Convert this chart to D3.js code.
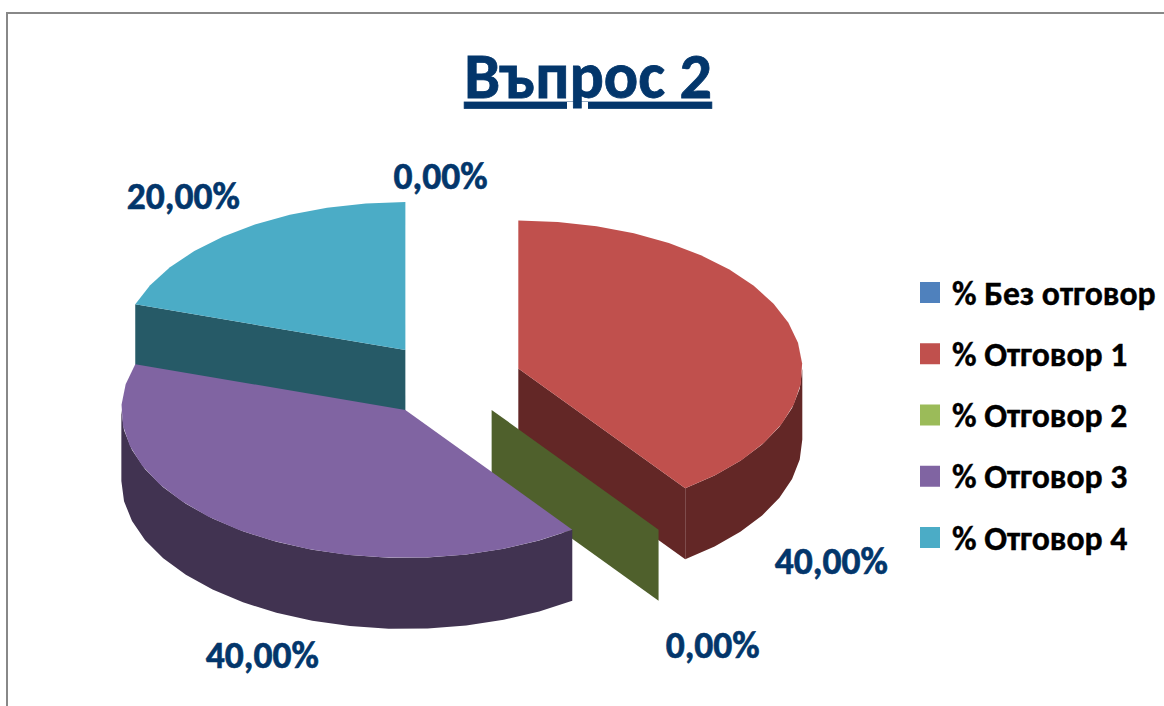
<!DOCTYPE html>
<html>
<head>
<meta charset="utf-8">
<script src="https://cdn.jsdelivr.net/npm/d3@7"></script>
<style>
  html, body { margin: 0; padding: 0; background: #fff; overflow: hidden; }
  text { font-family: Carlito, Lato, "Open Sans", sans-serif; font-weight: 700; }
</style>
</head>
<body>
<div id="chart"></div>
<script>
const chartTitle = 'Въпрос 2'
const categories = ['% Без отговор', '% Отговор 1', '% Отговор 2', '% Отговор 3', '% Отговор 4']
const percentages = [0, 40, 0, 40, 20]

const topColors = ['#4f81bd', '#c0504d', '#9bbb59', '#8064a2', '#4bacc6']
const sideColors = ['#27405e', '#632726', '#4f602c', '#413351', '#265a67']
// where excel put each data label, relative to the apex of its slice
const labelOffsets = [[-8, -154], [313, 205], [221, 248], [-143, 258], [-222, -141]]

const width = 1164
const height = 706
const pieCenter = { x: 448.5, y: 380 }
const radius = { x: 284, y: 148 }
const explode = { x: 73.4, y: 37 }
const depth = 71
const toRad = Math.PI / 180

const svg = d3.select('#chart')
  .append('svg')
  .attr('width', width)
  .attr('height', height)

svg.append('path')
  .attr('d', `M7,${height}V13H${width}`)
  .attr('fill', 'none')
  .attr('stroke', '#888')
  .attr('stroke-width', 2)

svg.append('text')
  .attr('x', 588)
  .attr('y', 98)
  .attr('text-anchor', 'middle')
  .attr('font-size', 64)
  .attr('fill', '#03366b')
  .attr('stroke', '#03366b')
  .attr('stroke-width', 0.8)
  .attr('text-decoration', 'underline')
  .text(chartTitle)

const pie = d3.pie().sort(null).value(d => d).startAngle(0).endAngle(2 * Math.PI)
const slices = pie(percentages).map((s, i) => {
  const mid = (s.startAngle + s.endAngle) / 2
  return {
    ...s,
    index: i,
    apex: {
      x: pieCenter.x + explode.x * Math.sin(mid),
      y: pieCenter.y - explode.y * Math.cos(mid)
    }
  }
})

const line = d3.line().x(d => d[0]).y(d => d[1])

function rimPoint (s, a, drop = 0) {
  return [s.apex.x + radius.x * Math.sin(a), s.apex.y - radius.y * Math.cos(a) + drop]
}

// coarse steps on purpose, the original rim is a faceted polygon
function arcPoints (s, from, to, drop = 0) {
  const steps = Math.max(1, Math.round(Math.abs(to - from) / (8 * toRad)))
  return d3.range(steps + 1).map(k => rimPoint(s, from + (to - from) * k / steps, drop))
}

function drawSlice (s) {
  const g = svg.append('g').attr('class', `slice-${s.index}`)
  const apex = [s.apex.x, s.apex.y]
  const apexLow = [s.apex.x, s.apex.y + depth]
  const a0 = s.startAngle
  const a1 = s.endAngle
  const side = sideColors[s.index]

  // cut faces, only the ones turned to the viewer
  const faces = []
  if (Math.sin(a0) < -1e-6) faces.push(a0)
  if (Math.sin(a1) > 1e-6) faces.push(a1)
  faces.forEach(a => {
    g.append('path')
      .attr('d', line([apex, rimPoint(s, a), rimPoint(s, a, depth), apexLow]) + 'Z')
      .attr('fill', side)
  })

  // outer wall, front half of the ellipse only
  const wallFrom = Math.max(a0, 90 * toRad)
  const wallTo = Math.min(a1, 270 * toRad)
  if (wallTo > wallFrom) {
    const pts = arcPoints(s, wallFrom, wallTo).concat(arcPoints(s, wallTo, wallFrom, depth))
    g.append('path')
      .attr('d', line(pts) + 'Z')
      .attr('fill', side)
  }

  if (a1 > a0) {
    g.append('path')
      .attr('d', line([apex].concat(arcPoints(s, a0, a1))) + 'Z')
      .attr('fill', topColors[s.index])
  }
}

// painter's order: back slices first
;[4, 1, 2, 3].forEach(i => drawSlice(slices[i]))

const pctFormat = v => v.toFixed(2).replace('.', ',') + '%'

svg.selectAll('.pct-label')
  .data(slices)
  .enter().append('text')
  .attr('class', 'pct-label')
  .attr('x', d => d.apex.x + labelOffsets[d.index][0])
  .attr('y', d => d.apex.y + labelOffsets[d.index][1])
  .attr('text-anchor', 'middle')
  .attr('font-size', 37.5)
  .attr('fill', '#03366b')
  .attr('stroke', '#03366b')
  .attr('stroke-width', 0.6)
  .text(d => pctFormat(d.data))

const legendY = d3.scalePoint()
  .domain(categories)
  .range([292.5, 537.5])

const legend = svg.selectAll('.legend-item')
  .data(categories)
  .enter().append('g')
  .attr('class', 'legend-item')
  .attr('transform', d => `translate(920,${legendY(d)})`)

legend.append('rect')
  .attr('x', 0)
  .attr('y', -10.5)
  .attr('width', 20)
  .attr('height', 21)
  .attr('fill', (d, i) => topColors[i])

legend.append('text')
  .attr('x', 32)
  .attr('y', 12)
  .attr('font-size', 33.7)
  .attr('fill', '#000')
  .attr('stroke', '#000')
  .attr('stroke-width', 0.4)
  .text(d => d)
</script>
</body>
</html>
